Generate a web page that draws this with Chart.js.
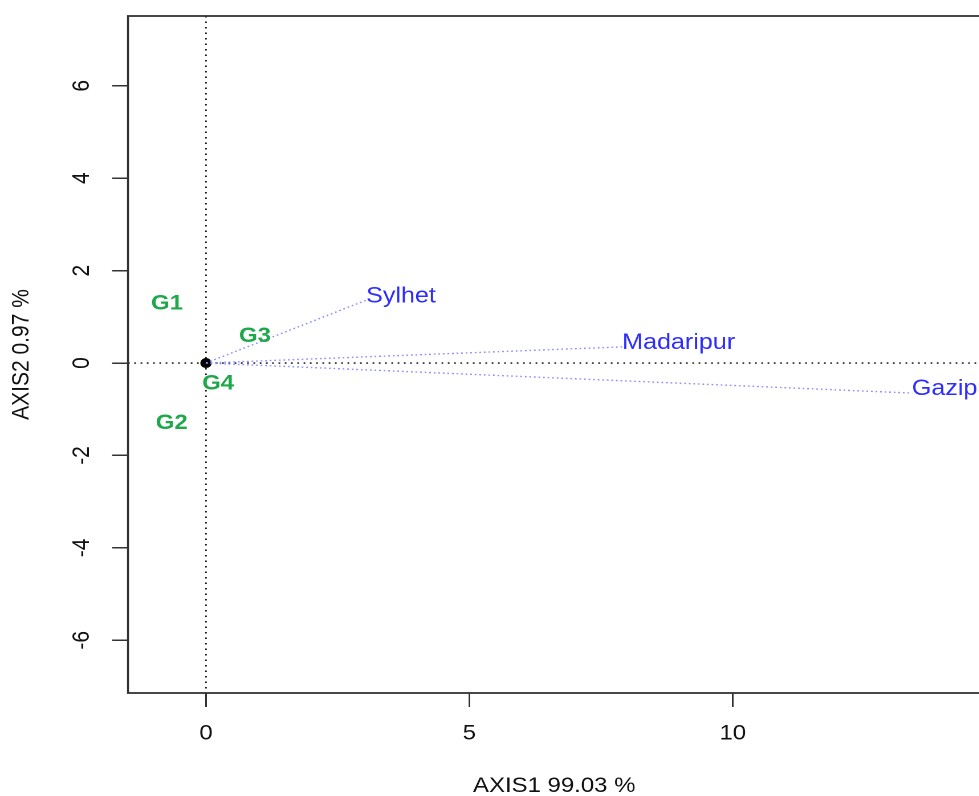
<!DOCTYPE html>
<html>
<head>
<meta charset="utf-8">
<script src="https://cdn.jsdelivr.net/npm/chart.js@4.4.0/dist/chart.umd.min.js"></script>
<style>
  html, body { margin: 0; padding: 0; background: #fff; overflow: hidden; width: 979px; height: 796px; }
  #wrap { position: absolute; left: 0; top: 0; width: 880px; height: 796px; transform: scaleX(1.14); transform-origin: 0 0; }
</style>
</head>
<body>
<div id="wrap"><canvas id="c" width="880" height="796"></canvas></div>
<script>
// ---- data ----
const genotypes = ['G1', 'G2', 'G3', 'G4'];
const genoX = [-0.74, -0.65, 0.93, 0.23];
const genoY = [1.28, -1.30, 0.58, -0.45];

const environments = ['Sylhet', 'Madaripur', 'Gazipur'];
const envX = [3.04, 7.90, 13.40];
const envY = [1.36, 0.35, -0.65];

const xTicks = [0, 5, 10];
const yTicks = [-6, -4, -2, 0, 2, 4, 6];

const xTitle = 'AXIS1 99.03 %';
const yTitle = 'AXIS2 0.97 %';

// ---- datasets ----
const FONT = '"Liberation Sans", Arial, sans-serif';
const datasets = [];
environments.forEach((name, i) => {
  datasets.push({
    label: name,
    type: 'scatter',
    showLine: true,
    data: [{x: 0, y: 0}, {x: envX[i], y: envY[i]}],
    borderColor: '#8f8fff',
    borderWidth: 1.4,
    borderDash: [1.5, 2.5],
    pointRadius: 0,
    kind: 'env'
  });
});
datasets.push({
  label: 'genotypes',
  type: 'scatter',
  data: genotypes.map((g, i) => ({x: genoX[i], y: genoY[i]})),
  pointRadius: 0,
  kind: 'geno'
});
datasets.push({
  label: 'origin',
  type: 'scatter',
  data: [{x: 0, y: 0}],
  pointRadius: 4.5,
  backgroundColor: '#000',
  borderColor: '#000',
  kind: 'origin'
});

const decor = {
  id: 'decor',
  beforeDatasetsDraw(chart) {
    const {ctx, chartArea: a, scales: {x, y}} = chart;
    ctx.save();
    ctx.strokeStyle = '#000';
    ctx.lineWidth = 1.3;
    ctx.setLineDash([1.5, 4]);
    const x0 = x.getPixelForValue(0), y0 = y.getPixelForValue(0);
    ctx.beginPath(); ctx.moveTo(x0, a.top); ctx.lineTo(x0, a.bottom); ctx.stroke();
    ctx.beginPath(); ctx.moveTo(a.left, y0); ctx.lineTo(a.right, y0); ctx.stroke();
    ctx.restore();
  },
  afterDatasetsDraw(chart) {
    const {ctx, chartArea: a, scales: {x, y}} = chart;
    ctx.save();
    ctx.beginPath(); ctx.rect(a.left, a.top, a.right - a.left, a.bottom - a.top); ctx.clip();
    // genotype labels
    ctx.fillStyle = '#1fa84a';
    ctx.font = 'bold 21px ' + FONT;
    ctx.textAlign = 'center';
    ctx.textBaseline = 'middle';
    genotypes.forEach((g, i) => {
      ctx.fillText(g, x.getPixelForValue(genoX[i]), y.getPixelForValue(genoY[i]));
    });
    // environment labels
    ctx.fillStyle = '#2d2dff';
    ctx.font = '22px ' + FONT;
    ctx.textAlign = 'left';
    environments.forEach((e, i) => {
      ctx.fillText(e, x.getPixelForValue(envX[i]), y.getPixelForValue(envY[i]) - 4);
    });
    ctx.restore();
  },
  afterDraw(chart) {
    const {ctx, chartArea: a, scales: {x, y}} = chart;
    ctx.save();
    ctx.strokeStyle = '#333';
    ctx.lineWidth = 1.8;
    ctx.strokeRect(a.left, a.top, a.right - a.left, a.bottom - a.top);
    // rotated y tick labels
    ctx.fillStyle = '#111';
    ctx.font = '21px ' + FONT;
    ctx.textAlign = 'center';
    ctx.textBaseline = 'middle';
    yTicks.forEach(v => {
      ctx.save();
      ctx.translate(72, y.getPixelForValue(v));
      ctx.rotate(-Math.PI / 2);
      ctx.fillText(String(v), 0, 0);
      ctx.restore();
    });
    // axis titles
    ctx.font = '21px ' + FONT;
    ctx.fillText(xTitle, (a.left + a.right) / 2, 786);
    ctx.save();
    ctx.translate(19, (a.top + a.bottom) / 2);
    ctx.rotate(-Math.PI / 2);
    ctx.fillText(yTitle, 0, 0);
    ctx.restore();
    ctx.restore();
  }
};

new Chart(document.getElementById('c'), {
  type: 'scatter',
  data: { datasets },
  options: {
    responsive: false,
    animation: false,
    devicePixelRatio: 2,
    layout: { padding: { top: 16, right: 20, left: 0, bottom: 0 } },
    plugins: { legend: { display: false }, tooltip: { enabled: false }, title: { display: false } },
    scales: {
      x: {
        type: 'linear',
        min: -1.48, max: 14.70,
        afterFit(s) { s.height = 103; },
        afterBuildTicks(s) { s.ticks = xTicks.map(v => ({value: v})); },
        border: { display: false },
        grid: { drawOnChartArea: false, drawTicks: true, tickLength: 14, color: '#333', lineWidth: 1.5 },
        ticks: { padding: 14, color: '#111', font: { family: FONT, size: 21 } }
      },
      y: {
        type: 'linear',
        min: -7.14, max: 7.51,
        afterFit(s) { s.width = 112.3; },
        afterBuildTicks(s) { s.ticks = yTicks.map(v => ({value: v})); },
        border: { display: false },
        grid: { drawOnChartArea: false, drawTicks: true, tickLength: 14, color: '#333', lineWidth: 1.5 },
        ticks: { color: 'rgba(0,0,0,0)', font: { family: FONT, size: 20 } }
      }
    }
  },
  plugins: [decor]
});
</script>
</body>
</html>
